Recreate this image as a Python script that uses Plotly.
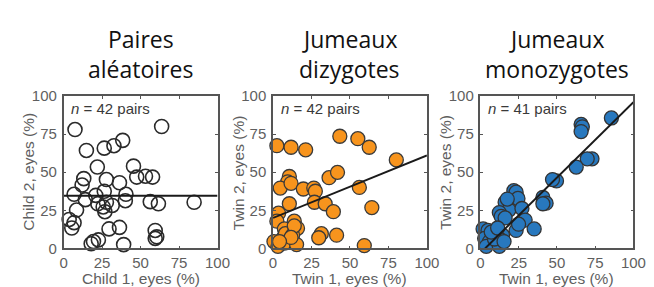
import plotly.graph_objects as go

W, H = 654, 287

# ---- data ----
random_x = [7.4, 63.7, 14.8, 26.4, 32.7, 38.4, 21.9, 13.1, 12.0, 27.8, 36.3, 45.4, 47.5, 53.2,
            57.8, 6.8, 14.1, 20.9, 26.4, 40.5, 40.1, 8.4, 22.2, 25.7, 26.8, 27.8, 31.6, 56.3,
            61.6, 84.8, 3.6, 6.8, 5.3, 29.5, 36.3, 59.5, 60.5, 59.5, 19.4, 22.6, 17.9, 39.0]
random_y = [78.0, 80.0, 64.3, 65.8, 67.4, 70.9, 53.4, 45.8, 41.6, 45.2, 43.1, 54.0, 46.8, 47.4,
            46.8, 35.5, 32.0, 34.8, 37.5, 35.5, 31.3, 25.2, 29.3, 27.2, 24.1, 30.3, 28.2, 30.7,
            29.3, 30.3, 19.0, 16.9, 13.4, 12.8, 13.8, 11.8, 7.6, 6.6, 4.5, 5.6, 3.1, 2.5]

dz_x = [2.5, 11.7, 21.2, 43.4, 55.1, 62.5, 80.1, 10.6, 9.5, 4.7, 11.7, 19.7, 26.5, 27.5, 36.4,
        41.9, 56.1, 64.2, 10.6, 26.9, 33.9, 39.2, 3.6, 2.5, 13.8, 15.9, 7.4, 31.4, 29.7, 41.3,
        59.3, 0.6, 3.2, 6.4, 8.0, 10.6, 12.7, 7.4, 15.3, 13.8, 11.7, 4.2]
dz_y = [67.4, 66.4, 64.7, 73.6, 72.0, 66.4, 58.1, 47.2, 43.7, 39.6, 42.7, 39.0, 39.6, 37.5, 46.4,
        49.9, 40.0, 26.8, 29.3, 30.3, 29.3, 24.1, 23.1, 17.9, 17.9, 13.2, 12.8, 9.7, 7.0, 8.7,
        1.9, 4.5, 1.4, 6.6, 9.7, 5.6, 8.7, 3.5, 2.5, 14.8, 7.2, 4.5]

mz_x = [85.6, 65.8, 66.6, 65.8, 72.9, 69.8, 62.6, 49.7, 47.1, 40.8, 42.9, 40.8, 21.8, 23.3,
        24.5, 16.1, 18.6, 27.1, 29.2, 12.3, 13.5, 16.1, 23.3, 35.1, 1.7, 4.9, 2.7, 8.0, 11.2,
        14.4, 5.9, 10.1, 13.3, 3.8, 12.3, 9.1, 15.4, 7.0, 17.5, 24.9, 11.2]
mz_y = [85.6, 81.4, 79.8, 76.7, 58.8, 58.8, 53.4, 44.3, 45.2, 33.4, 29.7, 29.3, 37.9, 36.9,
        32.8, 30.3, 25.2, 26.2, 18.6, 23.5, 21.0, 20.0, 11.8, 12.8, 12.8, 11.8, 6.6, 7.6, 9.7,
        8.7, 4.5, 4.5, 5.6, 1.4, 1.4, 6.2, 4.5, 10.7, 32.4, 15.9, 13.4]

# regression lines (endpoints)
fit_random_x = [0, 100]
fit_random_y = [34.5, 34.5]
fit_dz_x = [0, 100]
fit_dz_y = [20.0, 61.0]
fit_mz_x = [3, 100]
fit_mz_y = [0.0, 96.0]

title_line1 = ["Paires", "Jumeaux", "Jumeaux"]
title_line2 = ["aléatoires", "dizygotes", "monozygotes"]
x_titles = ["Child 1, eyes (%)", "Twin 1, eyes (%)", "Twin 1, eyes (%)"]
y_titles = ["Child 2, eyes (%)", "Twin 2, eyes (%)", "Twin 2, eyes (%)"]
n_labels = ["<i>n</i> = 42 pairs", "<i>n</i> = 42 pairs", "<i>n</i> = 41 pairs"]
tick_vals = [0, 25, 50, 75, 100]
tick_text = ["0", "25", "50", "75", "100"]

# ---- layout ----
panels_px = [(53, 211), (268, 426), (481, 638)]
y_top_px, y_bot_px = 84, 246
ydom = [1 - y_bot_px / H, 1 - y_top_px / H]

fig = go.Figure()

series = [
    (random_x, random_y, dict(symbol="circle-open", size=14, color="#2a2a2a",
                              line=dict(width=1.6, color="#2a2a2a"))),
    (dz_x, dz_y, dict(symbol="circle", size=14, color="#F7941D",
                      line=dict(width=1.3, color="#3a3a3a"))),
    (mz_x, mz_y, dict(symbol="circle", size=14, color="#2878BE",
                      line=dict(width=1.3, color="#333333"))),
]
fits = [(fit_random_x, fit_random_y), (fit_dz_x, fit_dz_y), (fit_mz_x, fit_mz_y)]

gray = "#5f5f5f"
lab_font = "Liberation Sans, Arial"
for i in range(3):
    xa = "x" if i == 0 else f"x{i+1}"
    ya = "y" if i == 0 else f"y{i+1}"
    sx, sy, mk = series[i]
    fig.add_trace(go.Scatter(x=sx, y=sy, mode="markers", marker=mk,
                             xaxis=xa, yaxis=ya, showlegend=False, cliponaxis=False))
    fx, fy = fits[i]
    fig.add_trace(go.Scatter(x=fx, y=fy, mode="lines", line=dict(color="#1a1a1a", width=2),
                             xaxis=xa, yaxis=ya, showlegend=False))
    l, r = panels_px[i]
    axcommon = dict(range=[0, 100], tickvals=tick_vals, ticktext=tick_text,
                    ticks="inside", ticklen=3, tickcolor="#555", showgrid=False, zeroline=False,
                    showline=True, linecolor="#555", linewidth=1.5, mirror="ticks",
                    tickfont=dict(family=lab_font, size=15, color=gray))
    fig.update_layout(**{
        ("xaxis" if i == 0 else f"xaxis{i+1}"): dict(domain=[l / W, r / W], anchor=ya, **axcommon),
        ("yaxis" if i == 0 else f"yaxis{i+1}"): dict(domain=ydom, anchor=xa, ticklabelstandoff=2,
                                                      **axcommon),
    })
    cx = (l + r) / 2
    # title (two lines)
    fig.add_annotation(text=title_line1[i], x=cx / W, y=1 - 23 / H, xref="paper", yref="paper",
                       showarrow=False, xanchor="center", yanchor="middle",
                       font=dict(family="Open Sans", size=23, color="#111"))
    fig.add_annotation(text=title_line2[i], x=cx / W, y=1 - 55 / H, xref="paper", yref="paper",
                       showarrow=False, xanchor="center", yanchor="middle",
                       font=dict(family="Open Sans", size=23, color="#111"))
    # x axis title
    fig.add_annotation(text=x_titles[i], x=cx / W, y=1 - 278 / H, xref="paper", yref="paper",
                       showarrow=False, xanchor="center", yanchor="middle",
                       font=dict(family=lab_font, size=15.5, color=gray))
    # y axis title
    fig.add_annotation(text=y_titles[i], x=(l - 36) / W, y=1 - 165 / H, xref="paper", yref="paper",
                       showarrow=False, xanchor="center", yanchor="middle", textangle=-90,
                       font=dict(family=lab_font, size=15.5, color=gray))
    # n label
    fig.add_annotation(text=n_labels[i], x=(l + 6) / W, y=1 - 97 / H, xref="paper", yref="paper",
                       showarrow=False, xanchor="left", yanchor="middle",
                       font=dict(family=lab_font, size=15, color="#3a3a3a"))

fig.update_layout(width=W, height=H, margin=dict(l=0, r=0, t=0, b=0),
                  paper_bgcolor="white", plot_bgcolor="white")
fig.write_html("out.html")
